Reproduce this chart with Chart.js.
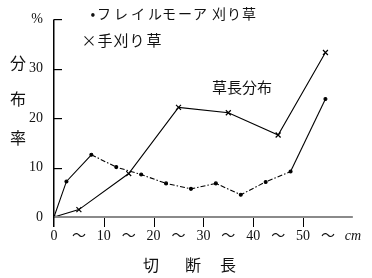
<!DOCTYPE html>
<html>
<head>
<meta charset="utf-8">
<script src="https://cdn.jsdelivr.net/npm/chart.js@4"></script>
<style>
  body { margin: 0; background: #fff; }
  canvas { display: block; }
</style>
</head>
<body>
<canvas id="chart" width="372" height="278"></canvas>
<script>
// 草長分布 data (切断長 cm, 分布率 %)
const flailX = [0, 2.5, 7.5, 12.5, 17.5, 22.5, 27.5, 32.5, 37.5, 42.5, 47.5, 54.5];
const flailY = [0, 7.2, 12.6, 10.1, 8.6, 6.8, 5.7, 6.8, 4.5, 7.1, 9.2, 23.9];
const handX = [0, 5, 15, 25, 35, 45, 54.5];
const handY = [0, 1.5, 8.8, 22.2, 21.1, 16.6, 33.3];

const flailLabel = 'フレイルモーア刈り草';
const handLabel = '手刈り草';
const noteLabel = '草長分布';
const yTitle = ['分', '布', '率'];
const xTitle = ['切', '断', '長'];

const numFont = '"Liberation Serif", "DejaVu Serif", "Noto Sans CJK JP", serif';
const jpFont = '"Noto Sans CJK JP", sans-serif';

const toPts = (xs, ys) => xs.map((x, i) => ({ x: x, y: ys[i] }));

// 軸線・目盛り・文字
const extras = {
  id: 'extras',
  afterDraw(chart) {
    const ctx = chart.ctx;
    const xs = chart.scales.x;
    const ys = chart.scales.y;
    const x0 = xs.getPixelForValue(0);
    const y0 = ys.getPixelForValue(0);
    const yTop = ys.getPixelForValue(40);
    ctx.save();
    ctx.setLineDash([]);
    // x 軸 (灰色)
    ctx.fillStyle = '#8a8a8a';
    ctx.fillRect(x0, y0 - 1, xs.right - x0, 2);
    // x 目盛り (下向き)
    ctx.fillStyle = '#000';
    [10, 20, 30, 40, 50].forEach(v => {
      const px = Math.round(xs.getPixelForValue(v));
      ctx.fillRect(px, y0 + 1, 1, 9);
    });
    // y 軸
    ctx.fillRect(Math.round(x0) - 1, yTop, 1.5, y0 + 10 - yTop);
    // y 目盛り (内向き)
    [10, 20, 30, 40].forEach(v => {
      const py = Math.round(ys.getPixelForValue(v));
      ctx.fillRect(x0, py, 8, 1.2);
    });

    ctx.fillStyle = '#111';
    ctx.textBaseline = 'middle';
    ctx.textAlign = 'center';

    ctx.font = '14px ' + jpFont;
    ctx.fillText('•', 93, 14);
    [104, 121, 138, 155, 169, 185, 200, 219, 234, 249].forEach((x, i) => ctx.fillText(flailLabel[i], x, 14));

    ctx.font = '15px ' + jpFont;
    ctx.fillText('×', 89, 40);
    [105, 121, 137, 154].forEach((x, i) => ctx.fillText(handLabel[i], x, 40));

    ctx.textAlign = 'left';
    ctx.fillText(noteLabel, 212, 87);

    ctx.textAlign = 'center';
    ctx.font = '16px ' + jpFont;
    [63, 99, 138].forEach((y, i) => ctx.fillText(yTitle[i], 18, y));
    [151, 193, 228].forEach((x, i) => ctx.fillText(xTitle[i], x, 265));
    ctx.restore();
  }
};

new Chart(document.getElementById('chart'), {
  type: 'line',
  data: {
    datasets: [
      {
        label: flailLabel,
        data: toPts(flailX, flailY),
        borderColor: '#000',
        backgroundColor: '#000',
        borderWidth: 1.1,
        pointRadius: 1.5,
        pointStyle: 'circle',
        tension: 0,
        segment: {
          borderDash: c => (c.p0DataIndex >= 2 && c.p0DataIndex <= 9) ? [5, 2, 1.5, 2] : undefined
        }
      },
      {
        label: handLabel,
        data: toPts(handX, handY),
        borderColor: '#000',
        backgroundColor: '#000',
        borderWidth: 1.1,
        pointStyle: 'crossRot',
        pointRadius: c => c.dataIndex === 0 ? 0 : 3.5,
        pointBorderWidth: 1.2,
        tension: 0
      }
    ]
  },
  options: {
    responsive: false,
    animation: false,
    layout: { padding: { top: 14, right: 10.5, left: 0, bottom: 0 } },
    plugins: { legend: { display: false }, tooltip: { enabled: false } },
    scales: {
      x: {
        type: 'linear',
        min: 0,
        max: 60,
        afterFit: s => { s.height = 61; },
        border: { display: false },
        grid: { display: false, drawTicks: false },
        ticks: {
          stepSize: 5,
          maxRotation: 0,
          autoSkip: false,
          padding: 11,
          color: '#111',
          font: c => (c.tick && c.tick.value === 60)
            ? { family: numFont, size: 14, style: 'italic' }
            : { family: numFont, size: 14 },
          callback: v => v === 60 ? 'cm' : (v % 10 === 0 ? String(v) : '～')
        }
      },
      y: {
        min: 0,
        max: 40,
        afterFit: s => { s.width = 54; },
        border: { display: false },
        grid: { display: false, drawTicks: false },
        ticks: {
          stepSize: 10,
          padding: 11,
          color: '#111',
          font: { family: numFont, size: 14 },
          callback: v => v === 40 ? '%' : String(v)
        }
      }
    }
  },
  plugins: [extras]
});
</script>
</body>
</html>
